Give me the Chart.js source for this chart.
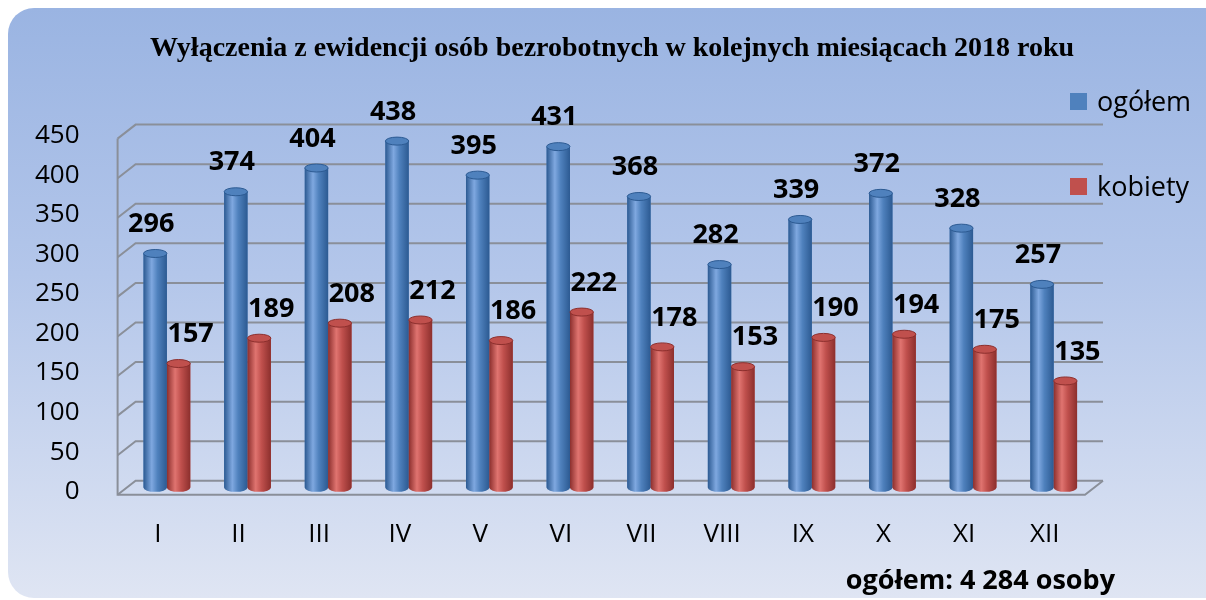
<!DOCTYPE html>
<html lang="pl">
<head>
<meta charset="utf-8">
<script src="https://cdn.jsdelivr.net/npm/chart.js@4.4.0/dist/chart.umd.min.js"></script>
<style>
    html, body { margin: 0; padding: 0; background: #fff; }
    #wrap { position: relative; width: 1206px; height: 600px; overflow: hidden; }
    #card {
        position: absolute; left: 8px; top: 8px; width: 1230px; height: 590px;
        border-radius: 26px;
        background: linear-gradient(to bottom, #9ab4e2 0%, #b3c6ea 45%, #dfe5f3 100%);
    }
    #chart { position: absolute; left: 0; top: 0; }
    .legend { position: absolute; left: 1070px; font-family: "Open Sans", sans-serif; font-size: 27px; color: #000; }
    .legend span.box { display: inline-block; width: 17px; height: 17px; margin-right: 10px; vertical-align: middle; position: relative; top: -2px; }
    #note { position: absolute; right: 91px; top: 560px; font-family: "Open Sans", sans-serif; font-weight: bold; font-size: 27px; color: #000; }
</style>
</head>
<body>
<div id="wrap">
    <div id="card"></div>
    <canvas id="chart" width="1206" height="600"></canvas>
    <div id="legend"></div>
    <div id="note"></div>
</div>
<script>
// dane
const months = ['I', 'II', 'III', 'IV', 'V', 'VI', 'VII', 'VIII', 'IX', 'X', 'XI', 'XII'];
const ogolem = [296, 374, 404, 438, 395, 431, 368, 282, 339, 372, 328, 257];
const kobiety = [157, 189, 208, 212, 186, 222, 178, 153, 190, 194, 175, 135];
const seriesNames = ['ogółem', 'kobiety'];
const seriesColors = ['#4f81bd', '#c0504d'];
const yTicks = [0, 50, 100, 150, 200, 250, 300, 350, 400, 450];
const chartTitle = 'Wyłączenia z ewidencji osób bezrobotnych w kolejnych miesiącach 2018 roku';
const noteText = 'ogółem: 4 284 osoby';

// kolory cylindrów: krawędź, środek, blask
const shades = {
    '#4f81bd': ['#2c5a92', '#4f81bd', '#7fa8e0'],
    '#c0504d': ['#8c2f2d', '#c0504d', '#e07470']
};

// ramka 3D (siatka z głębią)
const frame3d = {
    id: 'frame3d',
    beforeDatasetsDraw(chart) {
        const { ctx, chartArea } = chart;
        const y = chart.scales.y;
        const d = 9, dy = 7;
        ctx.save();
        ctx.strokeStyle = '#8a8f99';
        ctx.lineWidth = 2;
        yTicks.forEach(v => {
            const py = y.getPixelForValue(v);
            ctx.beginPath();
            ctx.moveTo(chartArea.left - d, py + dy);
            ctx.lineTo(chartArea.left + d, py - dy);
            ctx.lineTo(chartArea.right + d, py - dy);
            ctx.stroke();
        });
        const top = y.getPixelForValue(450);
        const bot = y.getPixelForValue(0);
        ctx.beginPath();
        ctx.moveTo(chartArea.left - d, top + dy);
        ctx.lineTo(chartArea.left - d, bot + dy);
        ctx.lineTo(chartArea.right - d, bot + dy);
        ctx.lineTo(chartArea.right + d, bot - dy);
        ctx.stroke();
        ctx.restore();
    }
};

// cylindry + etykiety wartości
const cylinders = {
    id: 'cylinders',
    afterDatasetsDraw(chart) {
        const { ctx } = chart;
        chart.data.datasets.forEach((ds, i) => {
            const meta = chart.getDatasetMeta(i);
            const s = shades[ds.backgroundColor];
            meta.data.forEach((bar, j) => {
                const left = bar.x - bar.width / 2;
                const right = bar.x + bar.width / 2;
                const rx = bar.width / 2, ry = 4;
                const g = ctx.createLinearGradient(left, 0, right, 0);
                g.addColorStop(0, s[0]);
                g.addColorStop(0.35, s[2]);
                g.addColorStop(0.6, s[1]);
                g.addColorStop(1, s[0]);
                ctx.save();
                ctx.fillStyle = g;
                ctx.beginPath();
                ctx.moveTo(left, bar.y);
                ctx.lineTo(left, bar.base);
                ctx.ellipse(bar.x, bar.base, rx, ry, 0, Math.PI, 0, true);
                ctx.lineTo(right, bar.y);
                ctx.closePath();
                ctx.fill();
                ctx.fillStyle = s[1];
                ctx.beginPath();
                ctx.ellipse(bar.x, bar.y, rx, ry, 0, 0, Math.PI * 2);
                ctx.fill();
                ctx.strokeStyle = s[0];
                ctx.lineWidth = 1;
                ctx.stroke();

                ctx.fillStyle = '#000';
                ctx.font = 'bold 27px "Open Sans", sans-serif';
                ctx.textAlign = 'center';
                ctx.textBaseline = 'middle';
                const lx = i === 0 ? bar.x - 4 : bar.x + 12;
                ctx.fillText(ds.data[j], lx, bar.y - 29);
                ctx.restore();
            });
        });
    }
};

const ctx = document.getElementById('chart').getContext('2d');
new Chart(ctx, {
    type: 'bar',
    data: {
        labels: months,
        datasets: [
            { label: seriesNames[0], data: ogolem, backgroundColor: seriesColors[0], borderWidth: 0 },
            { label: seriesNames[1], data: kobiety, backgroundColor: seriesColors[1], borderWidth: 0 }
        ]
    },
    options: {
        responsive: false,
        animation: false,
        layout: { padding: { left: -4, right: -22, top: 0, bottom: 27 } },
        datasets: { bar: { categoryPercentage: 0.58, barPercentage: 1 } },
        scales: {
            x: {
                grid: { display: false },
                border: { display: false },
                ticks: { color: '#000', font: { family: 'Open Sans', size: 26 }, padding: 23, labelOffset: -9, maxRotation: 0 }
            },
            y: {
                min: 0, max: 450,
                grid: { display: false },
                border: { display: false },
                ticks: { stepSize: 50, color: '#000', font: { family: 'Open Sans', size: 26 }, padding: 39, labelOffset: 4 }
            },
            // pusta oś po prawej, rezerwuje miejsce na legendę
            y2: {
                position: 'right',
                grid: { display: false },
                border: { display: false },
                ticks: { display: false },
                afterFit(scale) { scale.width = 134; }
            }
        },
        plugins: {
            legend: { display: false },
            tooltip: { enabled: false },
            title: {
                display: true,
                text: chartTitle,
                color: '#000',
                font: { family: 'Liberation Serif', size: 28, weight: 'bold' },
                padding: { top: 32, bottom: 66 }
            }
        }
    },
    plugins: [frame3d, cylinders]
});

// legenda i podpis jako tekst HTML
const legend = document.getElementById('legend');
seriesNames.forEach((name, i) => {
    const item = document.createElement('div');
    item.className = 'legend';
    item.style.top = (82 + i * 85) + 'px';
    item.innerHTML = `<span class="box" style="background:${seriesColors[i]}"></span>${name}`;
    legend.appendChild(item);
});
document.getElementById('note').textContent = noteText;
</script>
</body>
</html>
